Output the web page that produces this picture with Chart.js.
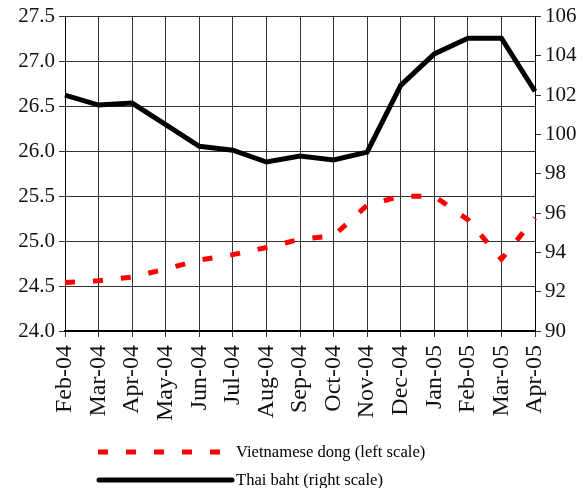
<!DOCTYPE html>
<html>
<head>
<meta charset="utf-8">
<script src="https://cdn.jsdelivr.net/npm/chart.js@4"></script>
<style>
  html, body { margin: 0; padding: 0; background: #fff; }
  #wrap { width: 583px; height: 488px; }
</style>
</head>
<body>
<div id="wrap"><canvas id="fxChart" width="583" height="488"></canvas></div>
<script>
// months on the x axis
const months = ["Feb-04", "Mar-04", "Apr-04", "May-04", "Jun-04", "Jul-04", "Aug-04",
  "Sep-04", "Oct-04", "Nov-04", "Dec-04", "Jan-05", "Feb-05", "Mar-05", "Apr-05"];

// Vietnamese dong, left scale
const dongValues = [24.54, 24.56, 24.60, 24.69, 24.79, 24.85, 24.93,
  25.02, 25.06, 25.40, 25.50, 25.50, 25.24, 24.80, 25.26];

// Thai baht, right scale
const bahtValues = [102.0, 101.5, 101.6, 100.5, 99.4, 99.2, 98.6,
  98.9, 98.7, 99.1, 102.5, 104.1, 104.9, 104.9, 102.2];

const dongLabel = "Vietnamese dong (left scale)";
const bahtLabel = "Thai baht (right scale)";

const serif = "'Liberation Serif', 'Times New Roman', serif";

// legend drawn by hand, two left-aligned rows under the axis
const legendRows = {
  id: "legendRows",
  afterDraw(chart) {
    const ctx = chart.ctx;
    ctx.save();
    ctx.lineWidth = 5;
    ctx.lineCap = "butt";

    ctx.strokeStyle = "#ff0000";
    ctx.setLineDash([10, 18]);
    ctx.beginPath();
    ctx.moveTo(98, 452);
    ctx.lineTo(228, 452);
    ctx.stroke();

    ctx.strokeStyle = "#000";
    ctx.setLineDash([]);
    ctx.lineCap = "round";
    ctx.beginPath();
    ctx.moveTo(99, 480);
    ctx.lineTo(232, 480);
    ctx.stroke();

    ctx.fillStyle = "#000";
    ctx.font = "16.6px " + serif;
    ctx.textBaseline = "middle";
    ctx.fillText(dongLabel, 236, 453);
    ctx.fillText(bahtLabel, 236, 481);
    ctx.restore();
  }
};

const ctx = document.getElementById("fxChart").getContext("2d");

new Chart(ctx, {
  type: "line",
  data: {
    labels: months,
    datasets: [
      {
        label: dongLabel,
        data: dongValues,
        yAxisID: "yLeft",
        borderColor: "#ff0000",
        borderWidth: 5,
        borderDash: [10, 18],
        pointRadius: 0,
        tension: 0,
        fill: false
      },
      {
        label: bahtLabel,
        data: bahtValues,
        yAxisID: "yRight",
        borderColor: "#000",
        borderWidth: 5,
        pointRadius: 0,
        tension: 0,
        fill: false
      }
    ]
  },
  options: {
    responsive: false,
    animation: false,
    layout: { padding: { top: 7, bottom: 60, left: 0, right: 0 } },
    plugins: {
      legend: { display: false },
      tooltip: { enabled: false }
    },
    scales: {
      x: {
        offset: false,
        grid: { color: "#333", lineWidth: 1, tickLength: 6 },
        border: { color: "#000", width: 2 },
        ticks: {
          color: "#111",
          font: { family: serif, size: 24 },
          minRotation: 90,
          maxRotation: 90,
          autoSkip: false,
          padding: 8
        },
        afterFit(axis) { axis.height = 97; }
      },
      yLeft: {
        position: "left",
        min: 24,
        max: 27.5,
        ticks: {
          stepSize: 0.5,
          color: "#111",
          font: { family: serif, size: 21 },
          padding: 4,
          callback: v => v.toFixed(1)
        },
        grid: { color: "#333", lineWidth: 1, tickLength: 6 },
        border: { color: "#000", width: 1 },
        afterFit(axis) { axis.width = 65; }
      },
      yRight: {
        position: "right",
        min: 90,
        max: 106,
        ticks: {
          stepSize: 2,
          color: "#111",
          font: { family: serif, size: 21 },
          padding: 4
        },
        grid: { drawOnChartArea: false, color: "#333", tickLength: 6 },
        border: { color: "#000", width: 1 },
        afterFit(axis) { axis.width = 48; }
      }
    }
  },
  plugins: [legendRows]
});
</script>
</body>
</html>
